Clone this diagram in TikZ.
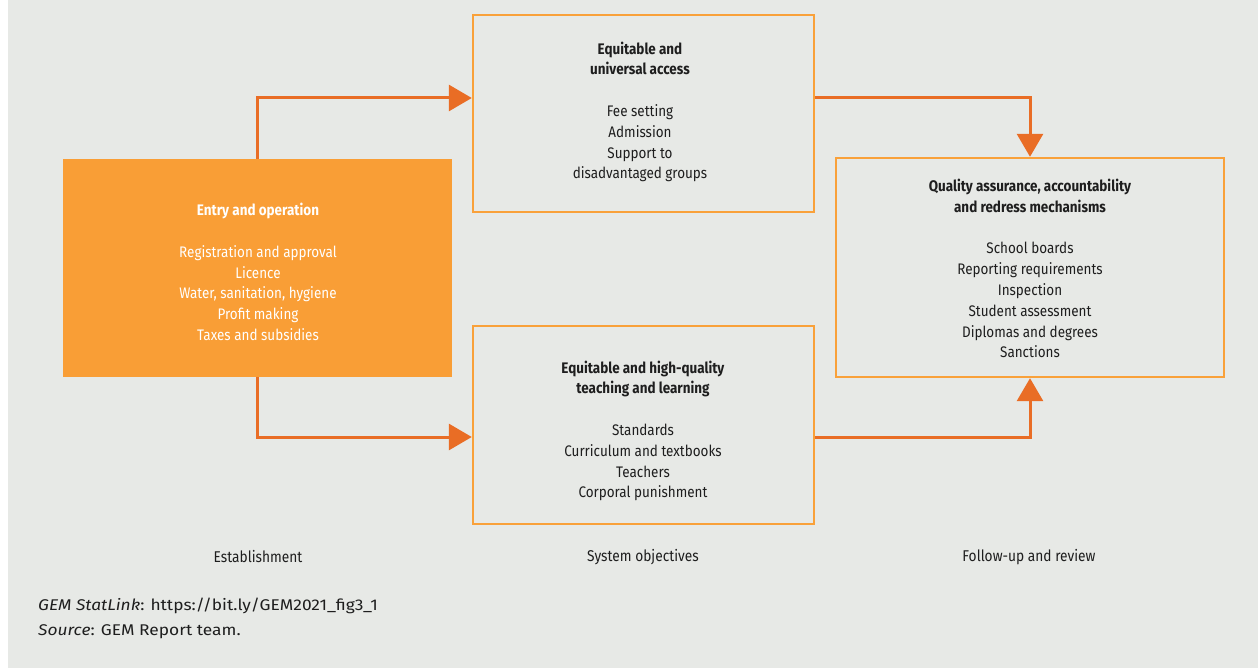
\documentclass[tikz,border=0pt]{standalone}
\usepackage{fontspec}
\setmainfont{Fira Sans}[FakeStretch=0.88]
\newfontfamily\footfont{Fira Sans}[FakeStretch=1.12]
\usetikzlibrary{arrows.meta}
\definecolor{bggray}{HTML}{E7E9E6}
\definecolor{boxorange}{HTML}{F99E36}
\definecolor{edgeorange}{HTML}{F9A13A}
\definecolor{arroworange}{HTML}{E96D25}
\definecolor{txtdark}{HTML}{1E1E1E}
\tikzset{
  outlinebox/.style={draw=edgeorange, line width=2.4pt, fill=none, inner sep=0pt},
  filledbox/.style={fill=boxorange, draw=none, inner sep=0pt},
  boxtext/.style={align=center, text=txtdark, font=\fontsize{15.3}{20.8}\selectfont, inner sep=0pt},
  flow/.style={draw=arroworange, line width=3pt, -{Triangle[length=23pt,width=26pt]}},
  steplabel/.style={text=txtdark, font=\fontsize{15.6}{18}\selectfont, inner sep=0pt},
  foottext/.style={text=txtdark, font=\footfont\fontsize{15.5}{18}\selectfont, inner sep=0pt, anchor=west}
}
\begin{document}
\begin{tikzpicture}[x=1pt,y=-1pt]
\useasboundingbox (0,0) rectangle (1258,668);
\fill[white] (0,0) rectangle (1258,668);
\fill[bggray] (8,0) rectangle (1258,668);
% boxes
\node[filledbox, minimum width=389pt, minimum height=218pt] (entry) at (257.5,268) {};
\node[outlinebox, minimum width=341pt, minimum height=197pt] (access) at (643.5,113.5) {};
\node[outlinebox, minimum width=341pt, minimum height=198pt] (teach) at (643.5,425) {};
\node[outlinebox, minimum width=388pt, minimum height=219pt] (quality) at (1030,267.5) {};
% texts
\node[boxtext, text=white] (entrytxt) at (258,272) {\textbf{Entry and operation}\\[20.8pt]Registration and approval\\Licence\\Water, sanitation, hygiene\\Profit making\\Taxes and subsidies};
\node[boxtext] (accesstxt) at (640,112) {\textbf{Equitable and}\\\textbf{universal access}\\[20.8pt]Fee setting\\Admission\\Support to\\disadvantaged groups};
\node[boxtext] (teachtxt) at (643,431) {\textbf{Equitable and high-quality}\\\textbf{teaching and learning}\\[20.8pt]Standards\\Curriculum and textbooks\\Teachers\\Corporal punishment};
\node[boxtext] (qualitytxt) at (1030,268.5) {\textbf{Quality assurance, accountability}\\\textbf{and redress mechanisms}\\[20.8pt]School boards\\Reporting requirements\\Inspection\\Student assessment\\Diplomas and degrees\\Sanctions};
% connectors
\draw[flow] (entry.north) |- ([yshift=15.5pt]access.west);
\draw[flow] (entry.south) |- ([yshift=-12pt]teach.west);
\draw[flow] ([yshift=15.5pt]access.east) -| (quality.north);
\draw[flow] ([yshift=-12pt]teach.east) -| (quality.south);
% step labels
\node[steplabel] (lab1) at (258,557) {Establishment};
\node[steplabel] (lab2) at (643,557) {System objectives};
\node[steplabel] (lab3) at (1029,557) {Follow-up and review};
% footer
\node[foottext] (foot1) at (38,606) {\textit{GEM StatLink}: https://bit.ly/GEM2021\_fig3\_1};
\node[foottext] (foot2) at (38,632) {\textit{Source}: GEM Report team.};
\end{tikzpicture}
\end{document}
